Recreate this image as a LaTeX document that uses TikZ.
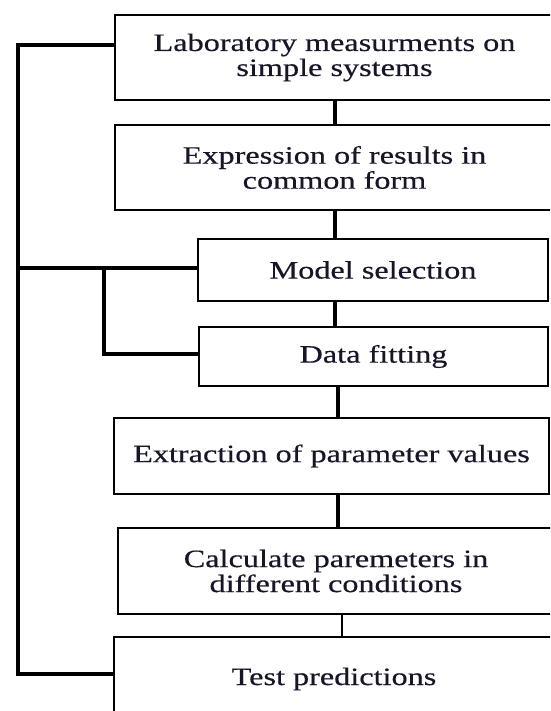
\documentclass[tikz,border=0pt]{standalone}
\usepackage{fontspec}
\setmainfont[FakeStretch=1.29,FakeBold=0.4]{Liberation Serif}
\definecolor{txt}{RGB}{22,22,40}
\begin{document}
\begin{tikzpicture}[x=1pt,y=-1pt,
  box/.style={draw=black, line width=2pt, rectangle, anchor=north west, inner sep=0pt,
    align=center, text=txt, font=\fontsize{25}{25}\selectfont},
  conn/.style={draw=black, line width=4.5pt},
  thinconn/.style={draw=black, line width=2.5pt},
  bus/.style={draw=black, line width=4pt, line join=miter}]
\path[use as bounding box, clip] (0,0) rectangle (550,711);
\fill[white] (0,0) rectangle (550,711);

\node[box, minimum width=439pt, minimum height=85pt] (b1) at (114,14)
  {Laboratory measurments on\\simple systems};
\node[box, minimum width=439pt, minimum height=85pt] (b2) at (114,124)
  {Expression of results in\\common form};
\node[box, minimum width=350pt, minimum height=62pt] (b3) at (197,238)
  {Model selection};
\node[box, minimum width=349pt, minimum height=59pt] (b4) at (198,326)
  {Data fitting};
\node[box, minimum width=435pt, minimum height=76pt] (b5) at (113,417)
  {Extraction of parameter values};
\node[box, minimum width=436pt, minimum height=86pt] (b6) at (117,527)
  {Calculate paremeters in\\different conditions};
\node[box, minimum width=440pt, minimum height=84pt] (b7) at (113,636)
  {Test predictions};

\coordinate (ca) at (335,0);
\coordinate (cb) at (338,0);
\coordinate (cc) at (342,0);
\draw[conn] (b1.south -| ca) -- (b2.north -| ca);
\draw[conn] (b2.south -| ca) -- (b3.north -| ca);
\draw[conn] (b3.south -| ca) -- (b4.north -| ca);
\draw[conn] (b4.south -| cb) -- (b5.north -| cb);
\draw[conn] (b5.south -| cb) -- (b6.north -| cb);
\draw[thinconn] (b6.south -| cc) -- (b7.north -| cc);

\coordinate (ltop) at (18,45);
\coordinate (lbot) at (18,674);
\coordinate (lmid) at (18,268);
\coordinate (stop) at (104,268);
\coordinate (sbot) at (104,354);
\draw[bus] (b1.west |- ltop) -- (ltop) -- (lbot) -- (b7.west |- lbot);
\draw[bus] (lmid) -- (b3.west |- lmid);
\draw[bus] (stop) -- (sbot) -- (b4.west |- sbot);
\end{tikzpicture}
\end{document}
